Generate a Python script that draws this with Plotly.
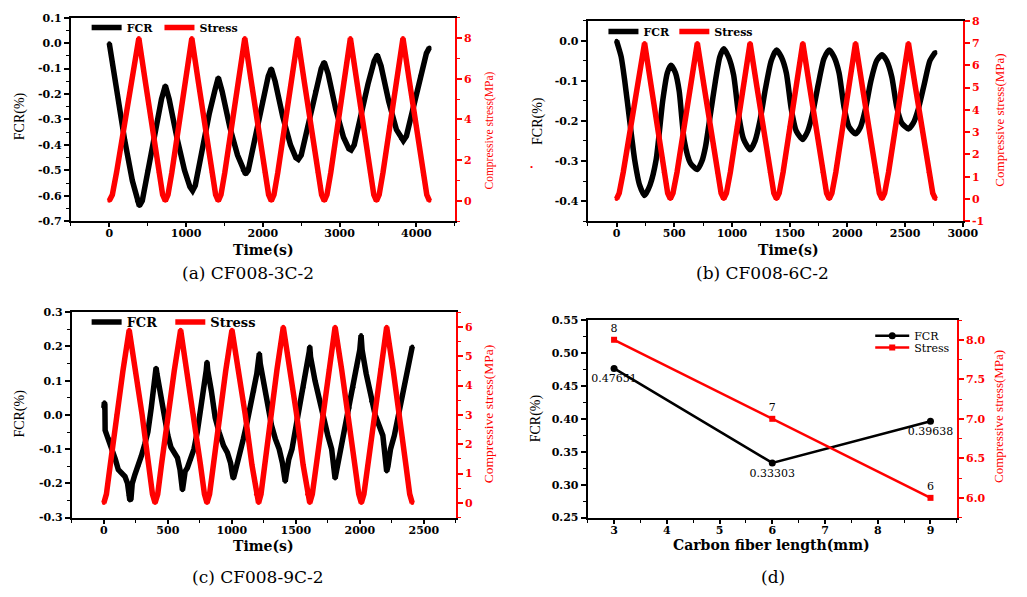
import plotly.graph_objects as go

W, H = 1027, 597


def px(x):
    return x / W


def py(y):
    return 1 - y / H


# ---------------- data ----------------
# (a) CF008-3C-2
a_fcr_t = [0, 100, 200, 300, 360, 392, 430, 500, 600, 680, 730,
           780, 880, 980, 1050, 1085, 1120, 1200, 1300, 1380, 1420,
           1470, 1570, 1670, 1740, 1775, 1810, 1890, 1990, 2070, 2110,
           2160, 2260, 2360, 2430, 2462, 2500, 2580, 2680, 2760, 2800,
           2850, 2950, 3050, 3120, 3150, 3190, 3270, 3370, 3450, 3490,
           3540, 3640, 3740, 3800, 3830, 3870, 3950, 4050, 4130, 4170]
a_fcr_v = [0, -0.2, -0.38, -0.54, -0.62, -0.64, -0.62, -0.5, -0.34, -0.22, -0.166,
           -0.22, -0.37, -0.5, -0.565, -0.58, -0.56, -0.43, -0.28, -0.18, -0.135,
           -0.19, -0.33, -0.44, -0.5, -0.515, -0.5, -0.38, -0.23, -0.13, -0.10,
           -0.15, -0.29, -0.40, -0.45, -0.457, -0.44, -0.33, -0.19, -0.10, -0.074,
           -0.12, -0.26, -0.37, -0.415, -0.42, -0.40, -0.29, -0.16, -0.07, -0.046,
           -0.09, -0.23, -0.34, -0.375, -0.383, -0.365, -0.26, -0.13, -0.04, -0.017]
a_str_t = [0, 40, 95, 190, 290, 385, 470, 560, 645, 695, 730,
           765, 815, 900, 990, 1075, 1160, 1248, 1335, 1385, 1420,
           1455, 1505, 1592, 1680, 1765, 1850, 1938, 2025, 2075, 2110,
           2145, 2195, 2282, 2370, 2455, 2540, 2628, 2715, 2765, 2800,
           2835, 2885, 2970, 3055, 3140, 3225, 3310, 3395, 3445, 3480,
           3515, 3565, 3652, 3740, 3825, 3910, 3998, 4085, 4135, 4170]
a_str_v = [0, 0.3, 1.4, 3.7, 5.85, 8, 5.85, 3.7, 1.4, 0.3, 0,
           0.3, 1.4, 3.7, 5.85, 8, 5.85, 3.7, 1.4, 0.3, 0,
           0.3, 1.4, 3.7, 5.85, 8, 5.85, 3.7, 1.4, 0.3, 0,
           0.3, 1.4, 3.7, 5.85, 8, 5.85, 3.7, 1.4, 0.3, 0,
           0.3, 1.4, 3.7, 5.85, 8, 5.85, 3.7, 1.4, 0.3, 0,
           0.3, 1.4, 3.7, 5.85, 8, 5.85, 3.7, 1.4, 0.3, 0]

# (b) CF008-6C-2
b_fcr_t = [0, 40, 71, 114, 157, 200, 243, 290, 343, 400, 440, 471,
           510, 543, 586, 640, 700, 740, 771, 815, 857, 895, 929,
           970, 1014, 1057, 1100, 1157, 1200, 1243, 1290, 1340, 1386,
           1427, 1471, 1514, 1557, 1614, 1657, 1700, 1747, 1797, 1843,
           1884, 1928, 1971, 2014, 2071, 2114, 2157, 2204, 2254, 2300,
           2341, 2385, 2428, 2471, 2529, 2572, 2615, 2665, 2715, 2763]
b_fcr_v = [0, -0.04, -0.10, -0.2, -0.297, -0.36, -0.386, -0.36, -0.297, -0.15, -0.08, -0.061,
           -0.08, -0.126, -0.248, -0.305, -0.321, -0.30, -0.264, -0.18, -0.10, -0.04, -0.02,
           -0.04, -0.085, -0.183, -0.245, -0.272, -0.25, -0.199, -0.12, -0.05, -0.023,
           -0.04, -0.08, -0.17, -0.225, -0.246, -0.225, -0.18, -0.11, -0.045, -0.023,
           -0.04, -0.08, -0.165, -0.215, -0.232, -0.215, -0.17, -0.10, -0.05, -0.035,
           -0.05, -0.09, -0.165, -0.205, -0.22, -0.205, -0.17, -0.11, -0.05, -0.028]
b_str_t = [0, 23, 58, 120, 182, 243, 299, 355, 410, 443, 466,
           489, 524, 583, 642, 700, 757, 815, 872, 906, 929,
           952, 986, 1043, 1100, 1157, 1214, 1271, 1329, 1363, 1386,
           1409, 1443, 1500, 1557, 1614, 1671, 1728, 1786, 1820, 1843,
           1866, 1900, 1957, 2014, 2071, 2128, 2185, 2243, 2277, 2300,
           2323, 2357, 2415, 2472, 2529, 2587, 2646, 2705, 2740, 2763]
b_str_v = [0, 0.26, 1.2, 3.25, 5.1, 7, 5.1, 3.25, 1.2, 0.26, 0,
           0.26, 1.2, 3.25, 5.1, 7, 5.1, 3.25, 1.2, 0.26, 0,
           0.26, 1.2, 3.25, 5.1, 7, 5.1, 3.25, 1.2, 0.26, 0,
           0.26, 1.2, 3.25, 5.1, 7, 5.1, 3.25, 1.2, 0.26, 0,
           0.26, 1.2, 3.25, 5.1, 7, 5.1, 3.25, 1.2, 0.26, 0,
           0.26, 1.2, 3.25, 5.1, 7, 5.1, 3.25, 1.2, 0.26, 0]

# (c) CF008-9C-2
c_fcr_t = [0, 4, 8, 10, 20, 40, 62, 90, 113, 140, 165, 185, 195, 203, 212, 222, 242, 268, 293,
           320, 344, 370, 390, 402, 408, 415,
           440, 473, 500, 524, 550, 575, 595, 607, 614, 622, 635, 652, 680, 704, 730, 760, 785,
           800, 806, 812,
           840, 870, 900, 935, 965, 990, 1005, 1012, 1020, 1040, 1063, 1090, 1120, 1150, 1175,
           1195, 1210, 1215, 1222,
           1250, 1280, 1310, 1340, 1370, 1395, 1410, 1417, 1425, 1445, 1470, 1500, 1530, 1560,
           1590, 1605, 1609, 1615,
           1650, 1690, 1720, 1750, 1780, 1800, 1807, 1815, 1835, 1860, 1890, 1920, 1950, 1980,
           2000, 2010, 2018,
           2050, 2090, 2120, 2150, 2180, 2200, 2210, 2220, 2240, 2270, 2300, 2330, 2360, 2390, 2410]
c_fcr_v = [0.02, 0.037, 0.03, -0.045, -0.055, -0.07, -0.094, -0.13, -0.16, -0.17, -0.18, -0.2,
           -0.235, -0.25, -0.245, -0.2, -0.175, -0.15, -0.12, -0.085, -0.05, 0.02, 0.08, 0.12,
           0.138, 0.12,
           0.06, -0.01, -0.06, -0.094, -0.11, -0.125, -0.16, -0.2, -0.22, -0.2, -0.165, -0.155,
           -0.13, -0.10, -0.05, 0.02, 0.09, 0.13, 0.155, 0.13,
           0.07, -0.008, -0.05, -0.09, -0.11, -0.14, -0.175, -0.186, -0.175, -0.14, -0.113,
           -0.07, -0.02, 0.04, 0.07, 0.12, 0.165, 0.18, 0.15,
           0.09, 0.03, -0.03, -0.07, -0.1, -0.14, -0.185, -0.195, -0.175, -0.13, -0.1, -0.04,
           0.02, 0.08, 0.15, 0.185, 0.2, 0.17,
           0.1, 0.03, -0.02, -0.06, -0.1, -0.16, -0.186, -0.17, -0.13, -0.09, -0.04, 0.02,
           0.08, 0.14, 0.19, 0.233, 0.19,
           0.12, 0.04, 0.0, -0.03, -0.06, -0.13, -0.165, -0.15, -0.1, -0.06, 0.0, 0.05, 0.1,
           0.16, 0.2]
c_str_t = [0, 20, 50, 99, 149, 198, 249, 299, 350, 380, 400,
           421, 450, 500, 550, 600, 650, 703, 755, 786, 806,
           826, 855, 903, 952, 1001, 1053, 1105, 1157, 1189, 1209,
           1228, 1257, 1305, 1353, 1402, 1454, 1505, 1557, 1589, 1609,
           1629, 1659, 1708, 1758, 1807, 1858, 1910, 1961, 1992, 2012,
           2032, 2062, 2111, 2160, 2210, 2260, 2310, 2360, 2390, 2410]
c_str_v = [0, 0.3, 1.3, 3.0, 4.5, 5.9, 4.5, 3.0, 1.3, 0.3, 0,
           0.3, 1.3, 3.0, 4.5, 5.9, 4.5, 3.0, 1.3, 0.3, 0,
           0.3, 1.3, 3.0, 4.5, 5.9, 4.5, 3.0, 1.3, 0.3, 0,
           0.3, 1.3, 3.05, 4.55, 6, 4.55, 3.05, 1.3, 0.3, 0,
           0.3, 1.3, 3.05, 4.55, 6, 4.55, 3.05, 1.3, 0.3, 0,
           0.3, 1.3, 3.05, 4.55, 6, 4.55, 3.05, 1.3, 0.3, 0]

# (d) summary
d_len = [3, 6, 9]
d_fcr = [0.47651, 0.33303, 0.39638]
d_stress = [8, 7, 6]
d_fcr_labels = ["0.47651", "0.33303", "0.39638"]
d_stress_labels = ["8", "7", "6"]

# tick labels
a_xt = [0, 1000, 2000, 3000, 4000]
a_yl = [0.1, 0.0, -0.1, -0.2, -0.3, -0.4, -0.5, -0.6, -0.7]
a_yl_txt = ["0.1", "0.0", "-0.1", "-0.2", "-0.3", "-0.4", "-0.5", "-0.6", "-0.7"]
a_yr = [0, 2, 4, 6, 8]
b_xt = [0, 500, 1000, 1500, 2000, 2500, 3000]
b_yl = [0.0, -0.1, -0.2, -0.3, -0.4]
b_yl_txt = ["0.0", "-0.1", "-0.2", "-0.3", "-0.4"]
b_yr = [-1, 0, 1, 2, 3, 4, 5, 6, 7, 8]
b_yr_txt = ["-1", "0", "1", "2", "3", "4", "5", "6", "7", "8"]
c_xt = [0, 500, 1000, 1500, 2000, 2500]
c_yl = [0.3, 0.2, 0.1, 0.0, -0.1, -0.2, -0.3]
c_yl_txt = ["0.3", "0.2", "0.1", "0.0", "-0.1", "-0.2", "-0.3"]
c_yr = [0, 1, 2, 3, 4, 5, 6]
d_xt = [3, 4, 5, 6, 7, 8, 9]
d_yl = [0.25, 0.30, 0.35, 0.40, 0.45, 0.50, 0.55]
d_yl_txt = ["0.25", "0.30", "0.35", "0.40", "0.45", "0.50", "0.55"]
d_yr = [6.0, 6.5, 7.0, 7.5, 8.0]
d_yr_txt = ["6.0", "6.5", "7.0", "7.5", "8.0"]

BLACK = "black"
RED = "#ff0000"
TICKFONT = dict(family="DejaVu Serif", size=11, weight="bold")

fig = go.Figure()


def curve(t, v, name, color, xa, ya, legend, smooth=False, width=5.5):
    fig.add_trace(go.Scatter(
        x=t, y=v, name=name, mode="lines+markers", xaxis=xa, yaxis=ya,
        line=dict(color=color, width=width, shape="spline" if smooth else "linear",
                  smoothing=0.6 if smooth else None),
        marker=dict(color=color, size=4),
        legend=legend, showlegend=True,
    ))


# (a)
curve(a_fcr_t, a_fcr_v, "FCR", BLACK, "x", "y", "legend")
curve(a_str_t, a_str_v, "Stress", RED, "x", "y2", "legend2")
# (b)
curve(b_fcr_t, b_fcr_v, "FCR", BLACK, "x2", "y3", "legend3", smooth=True)
curve(b_str_t, b_str_v, "Stress", RED, "x2", "y4", "legend4")
# (c)
curve(c_fcr_t, c_fcr_v, "FCR", BLACK, "x3", "y5", "legend5")
curve(c_str_t, c_str_v, "Stress", RED, "x3", "y6", "legend6")
# (d)
fig.add_trace(go.Scatter(
    x=d_len, y=d_fcr, name="FCR", mode="lines+markers+text", xaxis="x4", yaxis="y7",
    line=dict(color=BLACK, width=2.5), marker=dict(symbol="circle", size=7, color=BLACK),
    text=d_fcr_labels, textposition="bottom center", cliponaxis=False,
    textfont=dict(family="DejaVu Serif", size=11, color=BLACK),
    legend="legend7",
))
fig.add_trace(go.Scatter(
    x=d_len, y=d_stress, name="Stress", mode="lines+markers+text", xaxis="x4", yaxis="y8",
    line=dict(color=RED, width=2.5), marker=dict(symbol="square", size=6, color=RED),
    text=d_stress_labels, textposition="top center", cliponaxis=False,
    textfont=dict(family="DejaVu Serif", size=11, color=BLACK),
    legend="legend8",
))


def xax(domain, rng, tv, anchor, minor_dtick, tt=None):
    return dict(
        domain=domain, range=rng, anchor=anchor, tickmode="array", tickvals=tv,
        ticktext=tt if tt else [str(v) for v in tv],
        ticks="outside", ticklen=4, tickwidth=1.5, tickcolor=BLACK, ticklabelstandoff=-3,
        showline=True, linewidth=2, linecolor=BLACK, mirror=True,
        showgrid=False, zeroline=False, tickfont=dict(TICKFONT, color=BLACK),
        minor=dict(ticks="outside", ticklen=3, tickwidth=1.2, tickcolor=BLACK,
                   tickmode="linear", tick0=0, dtick=minor_dtick, showgrid=False),
    )


def yax(domain, rng, tv, tt, anchor, minor_dtick, minor_tick0):
    return dict(
        domain=domain, range=rng, anchor=anchor, tickmode="array", tickvals=tv, ticktext=tt,
        ticks="outside", ticklen=5, tickwidth=1.5, tickcolor=BLACK,
        showline=True, linewidth=2, linecolor=BLACK,
        showgrid=False, zeroline=False, tickfont=dict(TICKFONT, color=BLACK),
        minor=dict(ticks="outside", ticklen=3, tickwidth=1.2, tickcolor=BLACK,
                   tickmode="linear", tick0=minor_tick0, dtick=minor_dtick, showgrid=False),
    )


def yrax(overlay, rng, tv, tt, anchor, minor_dtick=None, minor_tick0=0):
    d = dict(
        overlaying=overlay, side="right", range=rng, anchor=anchor, tickmode="array",
        tickvals=tv, ticktext=tt, ticks="outside", ticklen=5, tickwidth=1.5, tickcolor=RED,
        showline=True, linewidth=2, linecolor=RED, showgrid=False, zeroline=False,
        tickfont=dict(TICKFONT, color=RED),
    )
    if minor_dtick:
        d["minor"] = dict(ticks="outside", ticklen=3, tickwidth=1.2, tickcolor=RED,
                          tickmode="linear", tick0=minor_tick0, dtick=minor_dtick, showgrid=False)
    return d


dom_a_x = [px(72), px(462)]
dom_a_y = [py(220), py(12)]
dom_b_x = [px(597), px(978)]
dom_b_y = [py(220), py(15)]
dom_c_x = [px(73), px(463)]
dom_c_y = [py(523), py(313)]
dom_d_x = [px(597), px(972)]
dom_d_y = [py(523), py(321)]

layout = dict(
    width=W, height=H, margin=dict(l=0, r=0, t=0, b=0),
    paper_bgcolor="white", plot_bgcolor="white", showlegend=True,
    xaxis=xax(dom_a_x, [-500, 4500], a_xt, "y", 500),
    yaxis=yax(dom_a_y, [-0.7, 0.1], a_yl, a_yl_txt, "x", 0.05, 0),
    yaxis2=yrax("y", [-1, 9], a_yr, [str(v) for v in a_yr], "x", 1, 0),
    xaxis2=xax(dom_b_x, [-250, 3000], b_xt, "y3", 250),
    yaxis3=yax(dom_b_y, [-0.45, 0.05], b_yl, b_yl_txt, "x2", 0.05, 0),
    yaxis4=yrax("y3", [-1, 8], b_yr, b_yr_txt, "x2"),
    xaxis3=xax(dom_c_x, [-250, 2750], c_xt, "y5", 250),
    yaxis5=yax(dom_c_y, [-0.3, 0.3], c_yl, c_yl_txt, "x3", 0.05, 0),
    yaxis6=yrax("y5", [-0.5, 6.5], c_yr, [str(v) for v in c_yr], "x3", 0.5, 0),
    xaxis4=xax(dom_d_x, [2.5, 9.5], d_xt, "y7", 0.5),
    yaxis7=yax(dom_d_y, [0.25, 0.55], d_yl, d_yl_txt, "x4", 0.025, 0),
    yaxis8=yrax("y7", [5.75, 8.25], d_yr, d_yr_txt, "x4", 0.25, 0),
)


def leg(x, y, size, bold=True, iw=30):
    return dict(orientation="h", x=px(x), y=py(y), xanchor="left", yanchor="middle",
                bgcolor="rgba(0,0,0,0)", itemwidth=iw, borderwidth=0,
                font=dict(family="DejaVu Serif", size=size, color=BLACK,
                          weight="bold" if bold else "normal"))


layout["legend"] = leg(88, 22, 11)
layout["legend2"] = leg(162, 22, 11)
layout["legend3"] = leg(613, 26, 11)
layout["legend4"] = leg(685, 26, 11)
layout["legend5"] = leg(88, 323, 13)
layout["legend6"] = leg(173, 323, 13)
layout["legend7"] = leg(884, 337, 11, bold=False, iw=34)
layout["legend8"] = leg(884, 349, 11, bold=False, iw=34)

ann = []


def text(x, y, s, size, color=BLACK, angle=0, family="Liberation Serif", weight="normal"):
    ann.append(dict(x=px(x), y=py(y), xref="paper", yref="paper", text=s, showarrow=False,
                    textangle=angle, xanchor="center", yanchor="middle",
                    font=dict(family=family, size=size, color=color, weight=weight)))


# axis titles
text(20, 113, "FCR(%)", 14, angle=-90)
text(497, 127, "Compressive stress(MPa)", 11.5, RED, -90)
text(268, 249, "Time(s)", 14, family="DejaVu Serif", weight="bold")
text(547, 117, "FCR(%)", 14, angle=-90)
text(1015, 117, "Compressive stress(MPa)", 13, RED, -90)
text(801, 249, "Time(s)", 14, family="DejaVu Serif", weight="bold")
text(20, 417, "FCR(%)", 14, angle=-90)
text(497, 417, "Compressive stress(MPa)", 13.5, RED, -90)
text(268, 552, "Time(s)", 14, family="DejaVu Serif", weight="bold")
text(544, 422, "FCR(%)", 14, angle=-90)
text(1015, 420, "Compressive stress(MPa)", 13, RED, -90)
text(784, 551, "Carbon fiber length(mm)", 14, family="DejaVu Serif", weight="bold")
# captions
text(252, 273, "(a) CF008-3C-2", 17, family="DejaVu Serif")
text(775, 273, "(b) CF008-6C-2", 17, family="DejaVu Serif")
text(262, 584, "(c) CF008-9C-2", 17, family="DejaVu Serif")
text(785, 584, "(d)", 17, family="DejaVu Serif")
# stray mark in the original figure
text(540, 165, "•", 9, RED)

layout["annotations"] = ann
fig.update_layout(**layout)
fig.write_html("out.html")
